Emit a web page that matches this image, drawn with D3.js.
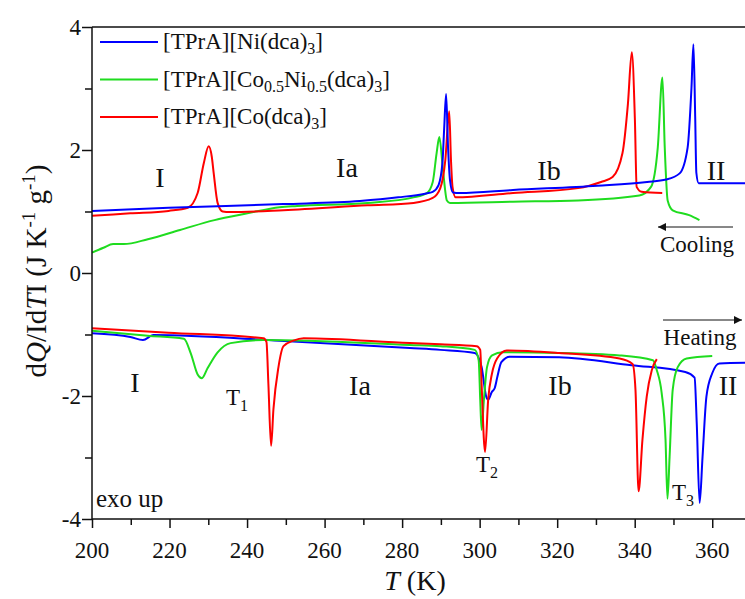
<!DOCTYPE html>
<html><head><meta charset="utf-8">
<script src="https://cdn.jsdelivr.net/npm/d3@7"></script>
<style>body{margin:0;background:#fff;}</style>
</head><body>
<svg id="c" width="745" height="599"></svg>
<script>
// ---- data: [T (K), dQ/|dT| (J K-1 g-1)] ----
const niCooling = [[200,1.01],[219.75,1.06],[249.4,1.12],[269.1,1.17],[279,1.23],[285.9,1.29],[287.9,1.32],[289.4,1.43],[290.4,1.79],[290.85,2.35],[291.35,2.91],[291.85,2.04],[292.35,1.51],[293.1,1.31],[294.8,1.30],[308.6,1.35],[330.35,1.42],[343.2,1.48],[348.1,1.52],[351.6,1.62],[353.65,2.04],[354.65,3.02],[355.15,3.72],[355.6,2.55],[355.9,1.63],[356.5,1.46],[370,1.46]];
const coNiCooling = [[200,0.33],[202.95,0.41],[205.45,0.47],[208.2,0.47],[214.4,0.55],[222.7,0.70],[231.6,0.86],[240.1,0.97],[248.4,1.07],[252.9,1.09],[271.1,1.14],[282.95,1.23],[286.4,1.30],[287.9,1.48],[288.9,1.95],[289.6,2.21],[290.55,1.67],[291.55,1.18],[292.35,1.14],[308.6,1.16],[325.4,1.18],[341.2,1.26],[344.2,1.40],[345.95,2.04],[347.15,3.18],[347.75,2.04],[348.5,1.18],[349.8,1.02],[354.05,0.94],[356.7,0.86]];
const coCooling = [[200,0.93],[209.9,0.97],[219.75,1.01],[224.7,1.06],[227.25,1.30],[228.85,1.79],[230.1,2.06],[230.9,1.89],[231.4,1.62],[232.4,1.14],[233.7,1.0],[235.55,0.99],[249.4,1.02],[271.1,1.10],[282.95,1.14],[287.9,1.22],[289.85,1.38],[291.15,1.84],[292.15,2.63],[292.6,1.84],[293.0,1.40],[293.8,1.23],[308.6,1.30],[325.4,1.38],[331.3,1.48],[334.3,1.56],[336.85,1.95],[338.25,2.75],[339.25,3.59],[340.05,2.49],[340.5,1.40],[341.8,1.32],[347.1,1.30]];
const niHeating = [[200,-0.98],[209.9,-1.04],[213.15,-1.09],[215.8,-1.01],[248.4,-1.10],[282,-1.22],[289.9,-1.25],[298.75,-1.30],[300.5,-1.53],[301.7,-2.01],[302.2,-2.06],[303.1,-1.94],[303.9,-1.87],[304.6,-1.68],[305.6,-1.45],[307.8,-1.36],[320.5,-1.37],[339.2,-1.50],[353.05,-1.61],[355.45,-1.70],[356.0,-2.44],[356.75,-3.74],[357.5,-2.99],[358.5,-2.01],[360,-1.63],[361.85,-1.47],[370,-1.46]];
const coNiHeating = [[200,-0.94],[214.4,-1.02],[223.7,-1.07],[225.5,-1.31],[227.25,-1.65],[228.35,-1.71],[229.8,-1.55],[232.4,-1.29],[235.75,-1.14],[244.25,-1.09],[282,-1.17],[289.9,-1.19],[298.75,-1.25],[299.75,-1.42],[300.15,-2.06],[300.5,-2.55],[301.1,-2.06],[301.9,-1.53],[303.2,-1.34],[306.0,-1.29],[320.5,-1.30],[336.1,-1.34],[344.7,-1.42],[345.7,-1.58],[346.95,-1.95],[347.95,-2.71],[348.45,-3.67],[349.0,-2.99],[349.8,-1.90],[351.1,-1.53],[353.4,-1.39],[360,-1.35]];
const coHeating = [[200,-0.90],[219.75,-0.97],[244.25,-1.06],[245.0,-1.12],[245.5,-1.80],[246.2,-2.81],[246.8,-2.22],[248.1,-1.53],[249.4,-1.19],[251.95,-1.10],[254.6,-1.06],[282,-1.14],[289.9,-1.16],[299.25,-1.19],[300.15,-1.25],[300.5,-1.80],[301.4,-2.91],[302.2,-2.06],[303.2,-1.63],[304.5,-1.39],[307.0,-1.26],[320.5,-1.30],[336.1,-1.39],[339.45,-1.48],[340.2,-1.90],[341.0,-3.55],[342.0,-2.71],[343.1,-2.01],[344.4,-1.58],[345.7,-1.40]];
const xTicks = [200,220,240,260,280,300,320,340,360];
const yTicks = [-4,-2,0,2,4];
const seriesNames = ["[TPrA][Ni(dca)3]","[TPrA][Co0.5Ni0.5(dca)3]","[TPrA][Co(dca)3]"];

const FONT = "Liberation Serif";
const BLUE="#0000ff", GREEN="#1fdc1f", RED="#ff0000";
const svg = d3.select("#c");
const x = d3.scaleLinear().domain([200,370]).range([92,751]);
const y = d3.scaleLinear().domain([-4,4]).range([519,27]);

svg.append("clipPath").attr("id","clip").append("rect")
  .attr("x",92).attr("y",27).attr("width",745-92).attr("height",519-27);

const line = d3.line().x(d=>x(d[0])).y(d=>y(d[1])).curve(d3.curveMonotoneX);
const g = svg.append("g").attr("clip-path","url(#clip)");
const curves = [
  [coNiCooling,GREEN],[coCooling,RED],[niCooling,BLUE],
  [niHeating,BLUE],[coNiHeating,GREEN],[coHeating,RED]
];
curves.forEach(([d,c])=>{
  g.append("path").datum(d).attr("d",line).attr("fill","none")
   .attr("stroke",c).attr("stroke-width",2).attr("stroke-linejoin","round");
});

function T(px,py,fs,anchor){
  return svg.append("text").attr("x",px).attr("y",py).attr("font-size",fs)
    .style("font-family",FONT).attr("fill","#111").attr("text-anchor",anchor||"start");
}

// axes
const ax = svg.append("g").attr("transform","translate(0,519)")
  .call(d3.axisBottom(x).tickValues(d3.range(200,371,10)).tickSize(9).tickFormat(""));
ax.selectAll(".tick line").attr("y2",(d)=> d%20===0?9:6);
ax.select(".domain").remove();
ax.selectAll("line").attr("stroke","#111").attr("stroke-width",1.5);
xTicks.forEach(t=>{ T(x(t),558,23,"middle").text(t); });
const ay = svg.append("g").attr("transform","translate(92,0)")
  .call(d3.axisLeft(y).tickValues(d3.range(-4,5,1)).tickSize(10).tickFormat(""));
ay.select(".domain").remove();
ay.selectAll(".tick line").attr("x2",d=> d%2===0?-10:-7);
ay.selectAll("line").attr("stroke","#111").attr("stroke-width",1.5);
yTicks.forEach(t=>{ T(81,y(t)+8,23,"end").text(t); });
svg.append("path").attr("d",`M92,27 H760 M92,27 V519 H760`).attr("fill","none")
  .attr("stroke","#111").attr("stroke-width",1.5);

// axis titles
const xl = T(415,590,28,"middle");
xl.append("tspan").style("font-style","italic").text("T");
xl.append("tspan").text(" (K)");
const yl = svg.append("text").attr("transform","translate(46,271) rotate(-90)")
  .attr("text-anchor","middle").attr("font-size",29).style("font-family",FONT).attr("fill","#111");
yl.append("tspan").text("d");
yl.append("tspan").style("font-style","italic").text("Q");
yl.append("tspan").text("/Id");
yl.append("tspan").style("font-style","italic").text("T");
yl.append("tspan").text("I (J K");
yl.append("tspan").attr("font-size",19).attr("dy",-11).text("-1");
yl.append("tspan").attr("dy",11).text(" g");
yl.append("tspan").attr("font-size",19).attr("dy",-11).text("-1");
yl.append("tspan").attr("dy",11).text(")");

// legend
const leg = [
  [BLUE, [["[TPrA][Ni(dca)",0],["3",1],["]",0]]],
  [GREEN,[["[TPrA][Co",0],["0.5",1],["Ni",0],["0.5",1],["(dca)",0],["3",1],["]",0]]],
  [RED,  [["[TPrA][Co(dca)",0],["3",1],["]",0]]]
];
leg.forEach(([c,parts],i)=>{
  const yy = 42 + i*37.5;
  svg.append("line").attr("x1",100).attr("x2",158).attr("y1",yy).attr("y2",yy)
    .attr("stroke",c).attr("stroke-width",2);
  const t = T(163,yy+7,23);
  let sub=false;
  parts.forEach(([s,isSub])=>{
    const ts = t.append("tspan").text(s);
    if(isSub && !sub){ ts.attr("font-size",16).attr("dy",5); sub=true; }
    else if(!isSub && sub){ ts.attr("dy",-5); sub=false; }
    else if(isSub){ ts.attr("font-size",16); }
  });
});

// annotations
function lab(txt,px,py){ return T(px,py,28,"middle").text(txt); }
lab("I",160,187); lab("Ia",347,177); lab("Ib",549,180); lab("II",716,180);
lab("I",135,392); lab("Ia",360,395); lab("Ib",560,395); lab("II",728,395);
function sublab(main,sub,px,py){
  const t = T(px,py,23);
  t.append("tspan").text(main);
  t.append("tspan").attr("font-size",16).attr("dy",6).text(sub);
}
sublab("T","1",226,405); sublab("T","2",476,472); sublab("T","3",672,500);
T(96,507,25).text("exo up");
T(697,252,23,"middle").text("Cooling");
T(700,345,23,"middle").text("Heating");
const defs = svg.append("defs");
defs.append("marker").attr("id","ah").attr("viewBox","0 0 10 10").attr("refX",10).attr("refY",5)
  .attr("markerWidth",14).attr("markerHeight",8).attr("markerUnits","userSpaceOnUse").attr("orient","auto")
  .append("path").attr("d","M0,0 L10,5 L0,10 Z").attr("fill","#111");
svg.append("line").attr("x1",733).attr("x2",658).attr("y1",227).attr("y2",227)
  .attr("stroke","#111").attr("stroke-width",1).attr("marker-end","url(#ah)");
svg.append("line").attr("x1",663).attr("x2",742).attr("y1",320).attr("y2",320)
  .attr("stroke","#111").attr("stroke-width",1).attr("marker-end","url(#ah)");
</script>
</body></html>
